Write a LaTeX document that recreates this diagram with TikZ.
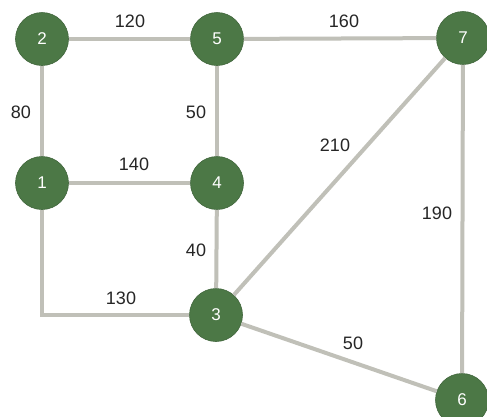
\documentclass[tikz,border=0pt]{standalone}
\usepackage{fontspec}
\setmainfont{Liberation Sans}
\usetikzlibrary{positioning}
\definecolor{nodegreen}{RGB}{76,120,70}
\definecolor{edgegray}{RGB}{192,192,184}

\begin{document}
\begin{tikzpicture}[
  x=1pt,y=-1pt,
  vert/.style={circle, fill=nodegreen, draw=nodegreen!85!black, line width=0.6pt, minimum size=53pt, inner sep=0pt, text=white, font=\fontsize{17}{17}\selectfont},
  edge/.style={draw=edgegray, line width=4pt},
  wt/.style={font=\fontsize{18}{18}\selectfont, text=black!85, inner sep=1pt}
]
  \clip (0,0) rectangle (487,416);
  \fill[white] (0,0) rectangle (487,416);

  \node[vert] (n2) at (42,39) {2};
  \node[vert] (n5) at (217,39) {5};
  \node[vert] (n7) at (463,38) {7};
  \node[vert] (n1) at (42,183) {1};
  \node[vert] (n4) at (217,183) {4};
  \node[vert] (n3) at (216,315) {3};
  \node[vert] (n6) at (462,400) {6};

  \draw[edge] (n2) -- (n5);
  \draw[edge] (n5) -- (n7);
  \draw[edge] (n2) -- (n1);
  \draw[edge] (n5) -- (n4);
  \draw[edge] (n1) -- (n4);
  \draw[edge] (n4) -- (n3);
  \draw[edge] (n1) |- (n3);
  \draw[edge] (n3) -- (n7);
  \draw[edge] (n7) -- (n6);
  \draw[edge] (n3) -- (n6);

  \node[wt] (w25) at (130,21) {120};
  \node[wt] (w57) at (344,21) {160};
  \node[wt] (w21) at (21,112) {80};
  \node[wt] (w54) at (196,112) {50};
  \node[wt] (w14) at (134,164) {140};
  \node[wt] (w37) at (335,145) {210};
  \node[wt] (w76) at (437,213) {190};
  \node[wt] (w43) at (196,250) {40};
  \node[wt] (w13) at (121,298) {130};
  \node[wt] (w36) at (353,343) {50};
\end{tikzpicture}
\end{document}
